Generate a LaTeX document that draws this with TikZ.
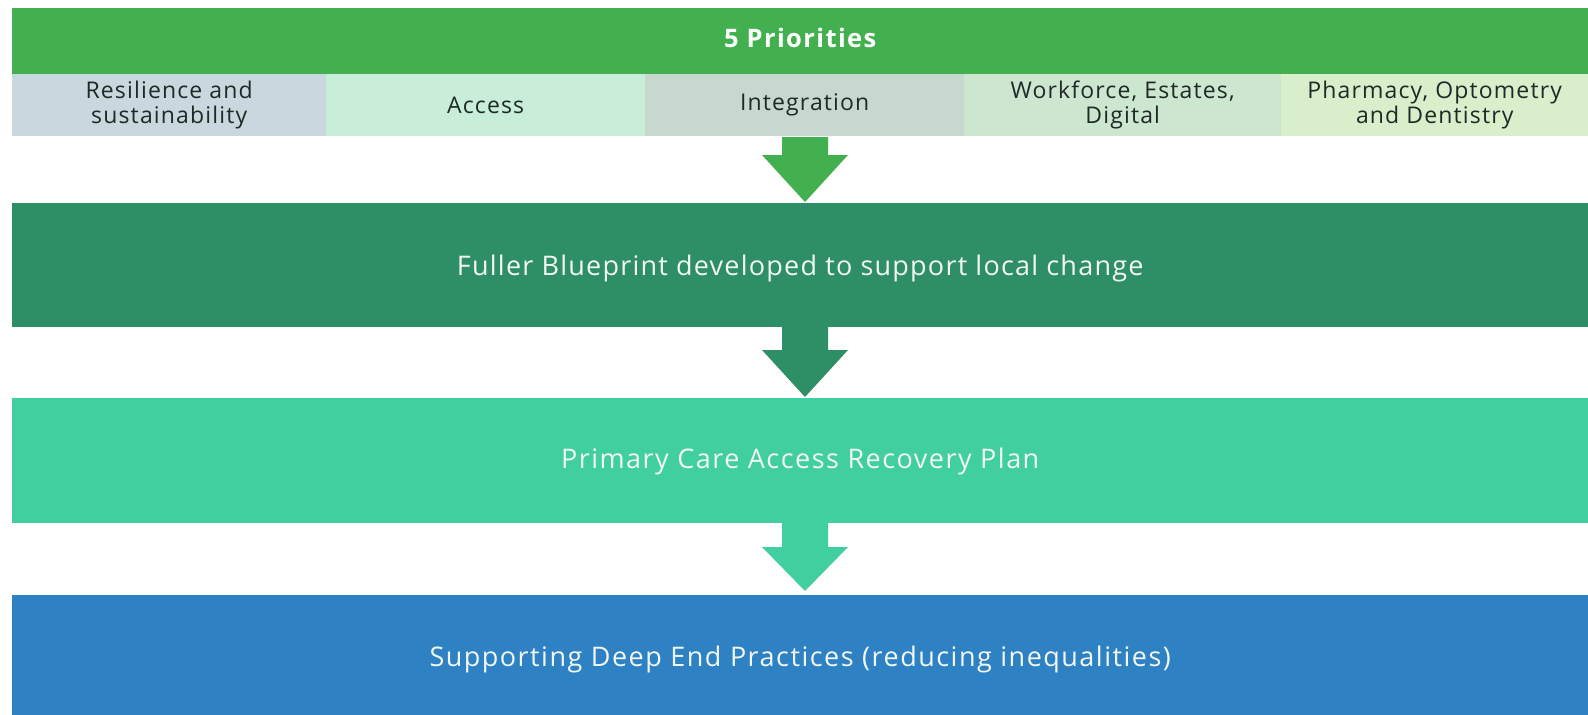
\documentclass[tikz,border=0pt]{standalone}
\usepackage{fontspec}
\setmainfont{Open Sans}
\definecolor{topgreen}{HTML}{43B04F}
\definecolor{darkgreen}{HTML}{2E8E66}
\definecolor{teal}{HTML}{42CFA0}
\definecolor{blue}{HTML}{2E81C2}
\definecolor{pA}{HTML}{C9D7DE}
\definecolor{pB}{HTML}{C8EDD9}
\definecolor{pC}{HTML}{C7D9CE}
\definecolor{pD}{HTML}{CDE6D0}
\definecolor{pE}{HTML}{D9EECB}
\definecolor{ptext}{HTML}{1E2A26}
\definecolor{btext}{HTML}{F2F7F4}
\begin{document}
\begin{tikzpicture}[x=1pt,y=-1pt,
  band/.style={anchor=north west, inner sep=0pt, minimum width=1576pt, text=btext,
    text height=19pt, text depth=6pt,
    font=\fontsize{27}{30}\selectfont\addfontfeatures{LetterSpace=4.5}},
  prio/.style={anchor=north west, inner sep=0pt, minimum height=62pt, text=ptext,
    align=center, font=\fontsize{23}{25}\selectfont\addfontfeatures{LetterSpace=5}},
]
\useasboundingbox (0,0) rectangle (1588,715);
\fill[white] (0,0) rectangle (1588,715);
% title
\node[band, fill=topgreen, minimum height=66pt, text=white,
  font=\fontsize{25.5}{30}\selectfont\bfseries\addfontfeatures{LetterSpace=5.5}] (title) at (12,8) {5 Priorities};
% priorities
\node[prio, fill=pA, minimum width=314pt] (p1) at (12,74) {Resilience and\\sustainability};
\node[prio, fill=pB, minimum width=319pt] (p2) at (326,74) {Access};
\node[prio, fill=pC, minimum width=319pt] (p3) at (645,74) {Integration};
\node[prio, fill=pD, minimum width=317pt] (p4) at (964,74) {Workforce, Estates,\\Digital};
\node[prio, fill=pE, minimum width=307pt] (p5) at (1281,74) {Pharmacy, Optometry\\and Dentistry};
% main bands
\node[band, fill=darkgreen, minimum height=124pt] (b1) at (12,203) {\raisebox{-4pt}{Fuller Blueprint developed to support local change}};
\node[band, fill=teal, minimum height=125pt] (b2) at (12,398) {\raisebox{-1pt}{\addfontfeatures{LetterSpace=5.5}Primary Care Access Recovery Plan}};
\node[band, fill=blue, minimum height=120pt] (b3) at (12,595) {\raisebox{-5pt}{\addfontfeatures{LetterSpace=5.5}Supporting Deep End Practices (reducing inequalities)}};
% arrows
\coordinate (a1) at (805,137);
\coordinate (a2) at (805,327);
\coordinate (a3) at (805,523);
\fill[topgreen] (a1) ++(-23,0) -- ++(46,0) -- ++(0,18) -- ++(20,0) -- (805,202) -- (762,155) -- (782,155) -- cycle;
\fill[darkgreen] (a2) ++(-23,0) -- ++(46,0) -- ++(0,23) -- ++(20,0) -- (805,397) -- (762,350) -- (782,350) -- cycle;
\fill[teal] (a3) ++(-23,0) -- ++(46,0) -- ++(0,24) -- ++(20,0) -- (805,591) -- (762,547) -- (782,547) -- cycle;
\end{tikzpicture}
\end{document}
